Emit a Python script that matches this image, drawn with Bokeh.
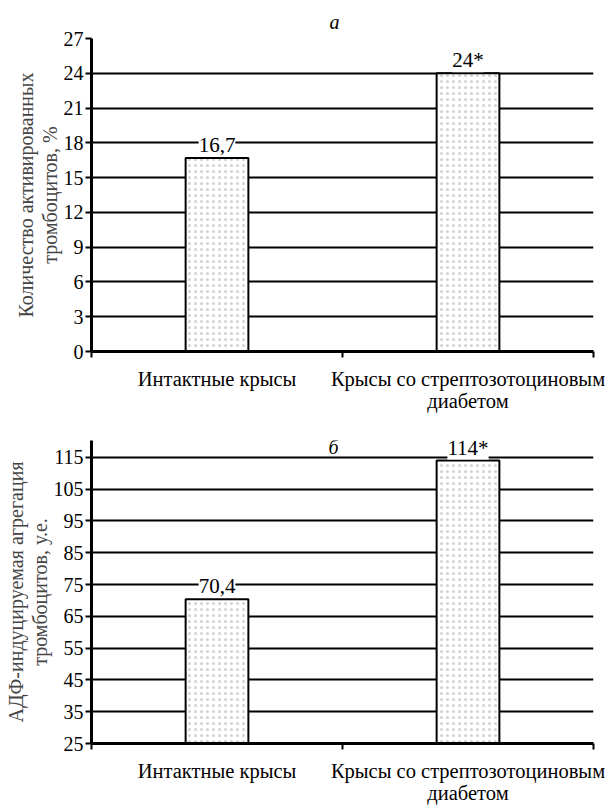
from bokeh.plotting import figure
from bokeh.models import ColumnDataSource, LabelSet, Label, FixedTicker, Range1d
from bokeh.layouts import column
from bokeh.embed import file_html
from bokeh.resources import INLINE

categories = ["Интактные крысы", "Крысы со стрептозотоциновым\nдиабетом"]

values_a = [16.7, 24.0]
labels_a = ["16,7", "24*"]
yticks_a = [0, 3, 6, 9, 12, 15, 18, 21, 24, 27]
ylabel_a = "Количество активированных\nтромбоцитов, %"
title_a = "а"

values_b = [70.4, 114.0]
labels_b = ["70,4", "114*"]
yticks_b = [25, 35, 45, 55, 65, 75, 85, 95, 105, 115]
ylabel_b = "АДФ-индуцируемая агрегация\nтромбоцитов, у.е."
title_b = "б"

FONT = "Liberation Serif"
FS_TICK = "20px"
FS_AXL = "20px"
FS_CAT = "20.5px"
FS_VAL = "21px"


def make_chart(values, labels, yticks, ymin, ymax, ylabel, height, top_b, bottom_b):
    xs = [i + 0.5 for i in range(len(categories))]
    src = ColumnDataSource(dict(x=xs, top=values, label=labels))
    p = figure(width=607, height=height,
               x_range=Range1d(0, len(categories)), y_range=Range1d(ymin, ymax),
               output_backend="svg", toolbar_location=None,
               min_border_left=91, min_border_right=14,
               min_border_top=top_b, min_border_bottom=bottom_b)
    p.outline_line_color = None
    p.background_fill_color = "white"

    p.vbar(x="x", top="top", bottom=ymin, width=0.25, source=src,
           fill_color="white", line_color="black", line_width=2,
           hatch_pattern="dot", hatch_color="#666666", hatch_alpha=0.3,
           hatch_scale=6, hatch_weight=1)

    p.yaxis.ticker = FixedTicker(ticks=yticks)
    p.yaxis.axis_label = ylabel
    p.yaxis.axis_label_text_font = FONT
    p.yaxis.axis_label_text_font_style = "normal"
    p.yaxis.axis_label_text_font_size = FS_AXL
    p.yaxis.axis_label_text_line_height = 1.05
    p.yaxis.axis_label_standoff = 0
    p.yaxis.major_label_text_font = FONT
    p.yaxis.major_label_text_font_size = FS_TICK
    p.yaxis.major_label_text_color = "black"
    p.yaxis.major_label_standoff = 2
    p.yaxis.major_tick_out = 6
    p.yaxis.major_tick_in = 0
    p.yaxis.major_tick_line_width = 2
    p.yaxis.minor_tick_line_color = None
    p.yaxis.axis_line_width = 3
    p.yaxis.axis_line_color = "black"

    p.xaxis.ticker = FixedTicker(ticks=xs, minor_ticks=list(range(len(categories) + 1)))
    p.xaxis.major_label_overrides = {x: c for x, c in zip(xs, categories)}
    p.xaxis.major_label_text_font = FONT
    p.xaxis.major_label_text_font_size = FS_CAT
    p.xaxis.major_label_text_color = "black"
    p.xaxis.major_label_text_line_height = 1.0
    p.xaxis.major_label_standoff = 10
    p.xaxis.major_tick_line_color = None
    p.xaxis.major_tick_out = 0
    p.xaxis.major_tick_in = 0
    p.xaxis.minor_tick_out = 6
    p.xaxis.minor_tick_in = 0
    p.xaxis.minor_tick_line_width = 2
    p.xaxis.minor_tick_line_color = "black"
    p.xaxis.axis_line_width = 3
    p.xaxis.axis_line_color = "black"

    p.xgrid.grid_line_color = None
    p.ygrid.ticker = FixedTicker(ticks=yticks)
    p.ygrid.grid_line_color = "black"
    p.ygrid.grid_line_width = 2

    lbl = LabelSet(x="x", y="top", text="label", source=src, y_offset=13,
                   text_align="center", text_baseline="middle",
                   text_font=FONT, text_font_size=FS_VAL, text_color="black",
                   background_fill_color="white", background_fill_alpha=1.0)
    p.add_layout(lbl)
    return p


p1 = make_chart(values_a, labels_a, yticks_a, 0, 27, ylabel_a, 414, 38, 62)
p1.title.text = title_a
p1.title.text_font = FONT
p1.title.text_font_style = "italic"
p1.title.text_font_size = "20px"
p1.title.text_color = "black"
p1.title.align = "left"
p1.title.offset = 238
p1.title.standoff = 12

p2 = make_chart(values_b, labels_b, yticks_b, 25, 120.3, ylabel_b, 392, 26, 61)
p2.add_layout(Label(x=0.964, y=118.3, text=title_b, text_font=FONT,
                    text_font_style="italic", text_font_size="20px",
                    text_align="center", text_baseline="middle", text_color="black"))

layout = column(p1, p2, spacing=0)
open("out.html", "w").write(file_html(layout, INLINE))
